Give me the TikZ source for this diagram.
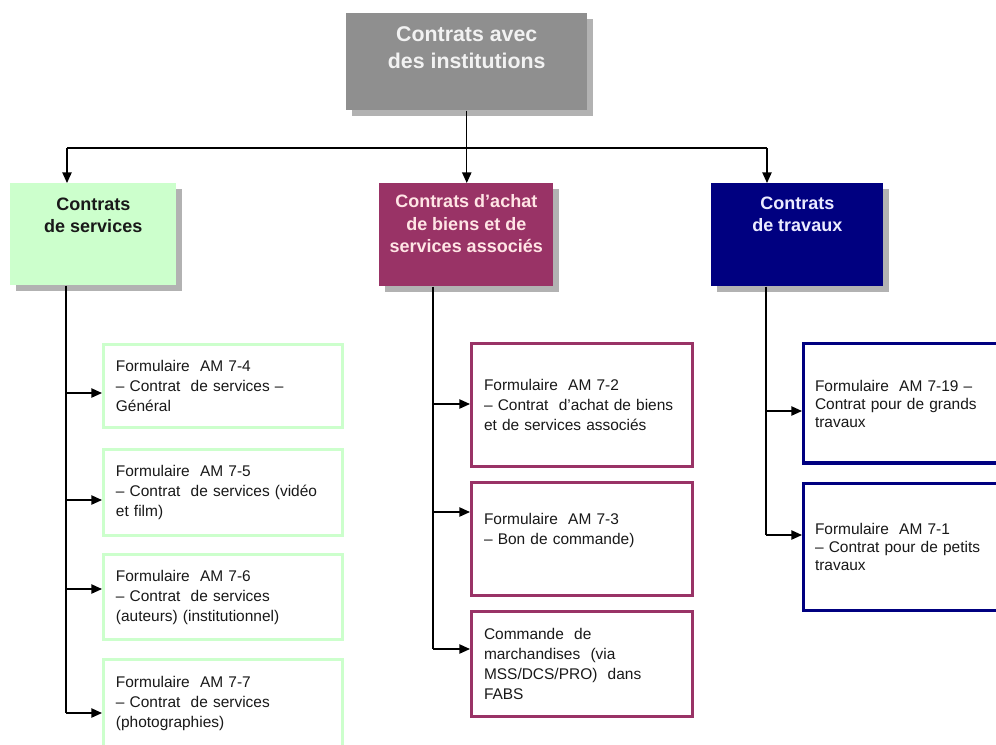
\documentclass[tikz,border=0pt]{standalone}
\usepackage{fontspec}
\setmainfont{Liberation Sans}
\usetikzlibrary{arrows.meta,shadows}
\definecolor{topgray}{RGB}{143,143,143}
\definecolor{shadegray}{RGB}{178,178,178}
\definecolor{svcgreen}{RGB}{204,255,204}
\definecolor{buyplum}{RGB}{153,51,102}
\definecolor{wrknavy}{RGB}{0,0,128}
\tikzset{
  headbox/.style={anchor=north west, inner sep=0pt,
    drop shadow={shadow xshift=4.5pt, shadow yshift=-4.5pt, fill=shadegray, opacity=1}},
  headtext/.style={anchor=north, align=center, inner sep=0pt,
    font=\fontsize{13.5}{16.9}\selectfont\bfseries},
  formbox/.style={draw, fill=white, anchor=north west, inner sep=0pt, align=left,
    font=\fontsize{11.6}{15}\selectfont, text=black!90},
  svcform/.style={formbox, draw=svcgreen, line width=2.4pt, minimum width=179pt, text width=160.5pt},
  buyform/.style={formbox, draw=buyplum, line width=2.6pt, minimum width=165.4pt, text width=147pt},
  wrkform/.style={formbox, draw=wrknavy, line width=2.6pt, minimum width=162.4pt, text width=145.5pt,
    font=\fontsize{11.6}{13.5}\selectfont},
  line/.style={line width=1pt},
  arr/.style={line width=1pt, -{Triangle[length=8pt,width=7pt]}}
}
\begin{document}
\begin{tikzpicture}[x=0.75pt,y=-0.75pt]
\useasboundingbox (0,0) rectangle (996,744);
\node[headbox, fill=topgray, minimum width=180.75pt, minimum height=72.75pt,
  label={[headtext, font=\fontsize{16}{20.25}\selectfont\bfseries, text=white!95!black, yshift=-9.75pt]north:{Contrats avec\\des institutions}}] (inst) at (346,13) {};
\node[headbox, fill=svcgreen, minimum width=124.5pt, minimum height=76.5pt,
  label={[headtext, text=black!90, yshift=-10.8pt]north:{Contrats\\de services}}] (svc) at (10,183) {};
\node[headbox, fill=buyplum, minimum width=130.5pt, minimum height=77.25pt,
  label={[headtext, text=pink!40!white, yshift=-8.5pt]north:{Contrats d'achat\\de biens et de\\services associés}}] (buy) at (379,183) {};
\node[headbox, fill=wrknavy, minimum width=129pt, minimum height=77.25pt,
  label={[headtext, text=blue!8!white, yshift=-10pt]north:{Contrats\\de travaux}}] (wrk) at (711,183) {};
\node[svcform, minimum height=62.1pt] (s1) at (102,343) {Formulaire\ \ AM 7-4\\– Contrat\ \ de services –\\Général};
\node[svcform, minimum height=64.4pt] (s2) at (102,448) {Formulaire\ \ AM 7-5\\– Contrat\ \ de services (vidéo\\et film)};
\node[svcform, minimum height=63.6pt] (s3) at (102,553) {Formulaire\ \ AM 7-6\\– Contrat\ \ de services\\(auteurs) (institutionnel)};
\node[svcform, minimum height=65.1pt] (s4) at (102,658) {Formulaire\ \ AM 7-7\\– Contrat\ \ de services\\(photographies)};
\node[buyform, minimum height=91.9pt] (a1) at (470,342) {Formulaire\ \ AM 7-2\\– Contrat\ \ d'achat de biens\\et de services associés};
\node[buyform, minimum height=84.4pt] (a2) at (470,481) {Formulaire\ \ AM 7-3\\– Bon de commande)\\ \mbox{}};
\node[buyform, minimum height=78.4pt] (a3) at (470,610) {Commande\ \ de\\marchandises\ \ (via\\MSS/DCS/PRO)\ \ dans\\FABS};
\node[wrkform, minimum height=89.6pt] (t1) at (802,342) {Formulaire\ \ AM 7-19 –\\Contrat pour de grands\\travaux};
\node[wrkform, minimum height=94.9pt] (t2) at (802,482) {Formulaire\ \ AM 7-1\\– Contrat pour de petits\\travaux};
\coordinate (busS) at (67,148);
\coordinate (busA) at (inst.south |- busS);
\coordinate (busT) at (767,148);
\draw[line] (inst.south) -- (busA);
\draw[line] (busS) -- (busT);
\foreach \c/\b in {busS/svc,busA/buy,busT/wrk} \draw[arr] (\c) -- (\c |- \b.north);
\coordinate (dropS) at (66,0);
\coordinate (dropA) at (433,0);
\coordinate (dropT) at (766,0);
\draw[line] (dropS |- svc.south) -- (dropS |- 0,713);
\draw[line] (dropA |- buy.south) -- (dropA |- 0,649);
\draw[line] (dropT |- wrk.south) -- (dropT |- 0,535);
\foreach \b/\y in {s1/393,s2/500,s3/589,s4/713} \draw[arr] (dropS |- 0,\y) -- (\b.west |- 0,\y);
\foreach \b/\y in {a1/404,a2/512,a3/649} \draw[arr] (dropA |- 0,\y) -- (\b.west |- 0,\y);
\foreach \b/\y in {t1/411,t2/535} \draw[arr] (dropT |- 0,\y) -- (\b.west |- 0,\y);
\end{tikzpicture}
\end{document}
